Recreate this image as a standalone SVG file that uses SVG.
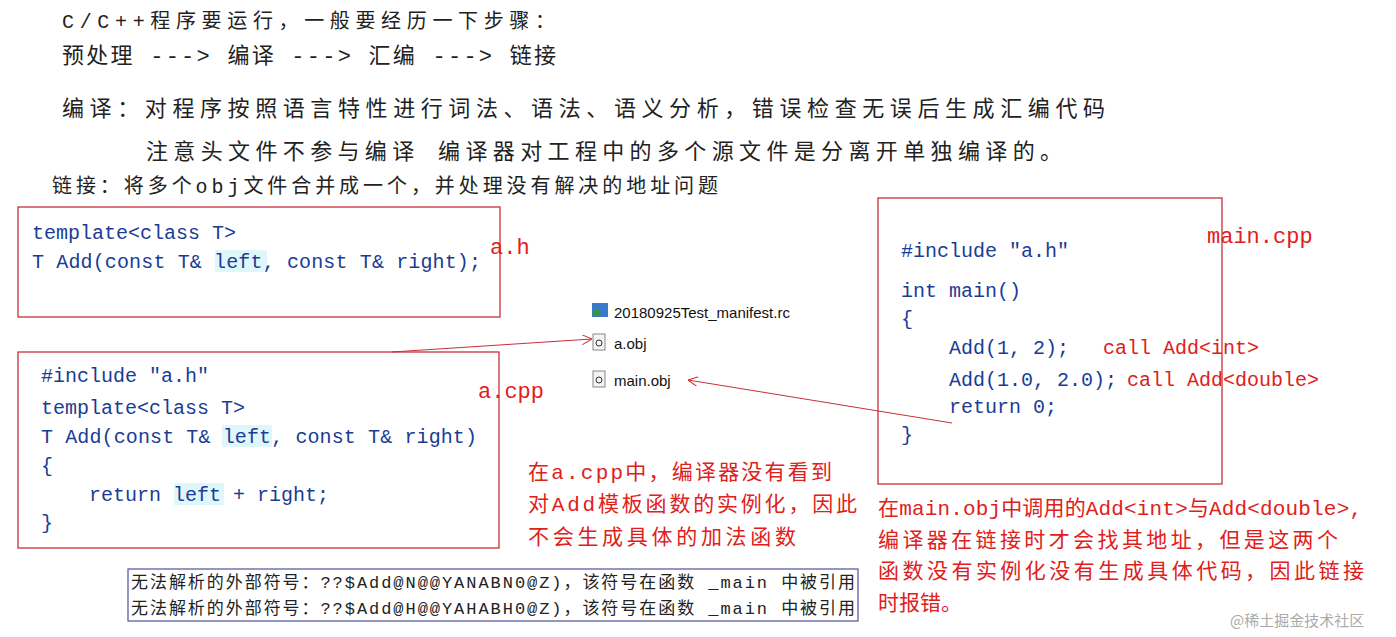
<svg xmlns="http://www.w3.org/2000/svg" width="1396" height="637" viewBox="0 0 1396 637">
<style>
.t{font-family:"Liberation Mono","Noto Sans CJK SC",monospace;fill:#222}
.c{font-family:"Liberation Mono","Noto Sans CJK SC",monospace;fill:#1a3c96;font-size:20px}
.r{font-family:"Liberation Mono","Noto Sans CJK SC",monospace;fill:#e0201a}
.box{fill:#fff;stroke:#c8303a;stroke-width:1.3}
.hl{fill:#dff6fb}
.f{font-family:"Liberation Sans","Noto Sans CJK SC",sans-serif;font-size:15px;fill:#111}
.ln{stroke:#c8303a;stroke-width:1;fill:none}
</style>
<defs><marker id="ah" viewBox="0 0 10 10" refX="10" refY="5" markerWidth="10" markerHeight="10" orient="auto" markerUnits="userSpaceOnUse"><path d="M0,0 L10,5 L0,10" fill="none" stroke="#c8303a"/></marker></defs>
<rect width="1396" height="637" fill="#fff"/>
<g id="header">
<text class="t" x="62" y="28" font-size="20" textLength="493">C/C++程序要运行，一般要经历一下步骤：</text>
<text class="t" x="62" y="63" font-size="22" textLength="494">预处理 ---&gt; 编译 ---&gt; 汇编 ---&gt; 链接</text>
<text class="t" x="62" y="116" font-size="22" textLength="1043">编译：对程序按照语言特性进行词法、语法、语义分析，错误检查无误后生成汇编代码</text>
<text class="t" x="146" y="159" font-size="22" textLength="916">注意头文件不参与编译  编译器对工程中的多个源文件是分离开单独编译的。</text>
<text class="t" x="52" y="193" font-size="20" textLength="666">链接：将多个obj文件合并成一个，并处理没有解决的地址问题</text>
</g>
<g id="ah-box">
<rect class="box" x="18" y="207" width="482" height="110"/>
<rect class="hl" x="215" y="250" width="52" height="22"/>
<text class="c" x="32" y="239">template&lt;class T&gt;</text>
<text class="c" x="32" y="268" textLength="449">T Add(const T&amp; left, const T&amp; right);</text>
<text class="r" x="490" y="254" font-size="22">a.h</text>
</g>
<g id="acpp-box">
<rect class="box" x="18" y="352" width="481" height="196"/>
<rect class="hl" x="222" y="425" width="50" height="22"/>
<rect class="hl" x="174" y="483" width="50" height="22"/>
<text class="c" x="41" y="382">#include "a.h"</text>
<text class="c" x="41" y="414">template&lt;class T&gt;</text>
<text class="c" x="41" y="443" textLength="436">T Add(const T&amp; left, const T&amp; right)</text>
<text class="c" x="41" y="472">{</text>
<text class="c" x="89" y="501">return left + right;</text>
<text class="c" x="41" y="529">}</text>
<text class="r" x="478" y="398" font-size="22">a.cpp</text>
</g>
<g id="main-box">
<rect class="box" x="878" y="198" width="344" height="286"/>
<text class="c" x="901" y="257">#include "a.h"</text>
<text class="c" x="901" y="297">int main()</text>
<text class="c" x="901" y="325">{</text>
<text class="c" x="949" y="354">Add(1, 2);</text>
<text class="c" x="949" y="386">Add(1.0, 2.0);</text>
<text class="c" x="949" y="413">return 0;</text>
<text class="c" x="901" y="441">}</text>
<text class="r" x="1103" y="354" font-size="20">call Add&lt;int&gt;</text>
<text class="r" x="1127" y="386" font-size="20">call Add&lt;double&gt;</text>
<text class="r" x="1207" y="243" font-size="22">main.cpp</text>
</g>
<g id="files">
<rect x="592" y="303" width="16" height="14" fill="#3a78c8"/><rect x="594" y="310" width="6" height="6" fill="#3a9a3a"/>
<text class="f" x="614" y="318">20180925Test_manifest.rc</text>
<rect x="593" y="334" width="12" height="16" fill="#f4f4f4" stroke="#888"/><circle cx="599" cy="343" r="3" fill="none" stroke="#333"/>
<text class="f" x="614" y="349">a.obj</text>
<rect x="593" y="371" width="12" height="16" fill="#f4f4f4" stroke="#888"/><circle cx="599" cy="380" r="3" fill="none" stroke="#333"/>
<text class="f" x="614" y="386">main.obj</text>
</g>
<g id="connectors">
<line class="ln" x1="392" y1="352" x2="592" y2="339" marker-end="url(#ah)"/>
<line class="ln" x1="952" y1="423" x2="688" y2="380" marker-end="url(#ah)"/>
</g>
<g id="notes">
<text class="r" x="528" y="479" font-size="21" textLength="304">在a.cpp中，编译器没有看到</text>
<text class="r" x="528" y="511" font-size="21" textLength="329">对Add模板函数的实例化，因此</text>
<text class="r" x="528" y="544" font-size="21" textLength="268">不会生成具体的加法函数</text>
<text class="r" x="878" y="515" font-size="21" textLength="484">在main.obj中调用的Add&lt;int&gt;与Add&lt;double&gt;,</text>
<text class="r" x="878" y="547" font-size="21" textLength="460">编译器在链接时才会找其地址，但是这两个</text>
<text class="r" x="878" y="578" font-size="21" textLength="486">函数没有实例化没有生成具体代码，因此链接</text>
<text class="r" x="878" y="610" font-size="21" textLength="84">时报错。</text>
</g>
<g id="errors">
<rect x="128" y="569" width="730" height="52" fill="#fff" stroke="#5050a0" stroke-width="1.2"/>
<text class="t" x="131" y="588" font-size="17" textLength="724">无法解析的外部符号：??$Add@N@@YANABN0@Z)，该符号在函数 _main 中被引用</text>
<text class="t" x="131" y="614" font-size="17" textLength="724">无法解析的外部符号：??$Add@H@@YAHABH0@Z)，该符号在函数 _main 中被引用</text>
</g>
<text x="1230" y="626" font-family="Noto Sans CJK SC,sans-serif" font-size="15" fill="#aaa">@稀土掘金技术社区</text>
</svg>
